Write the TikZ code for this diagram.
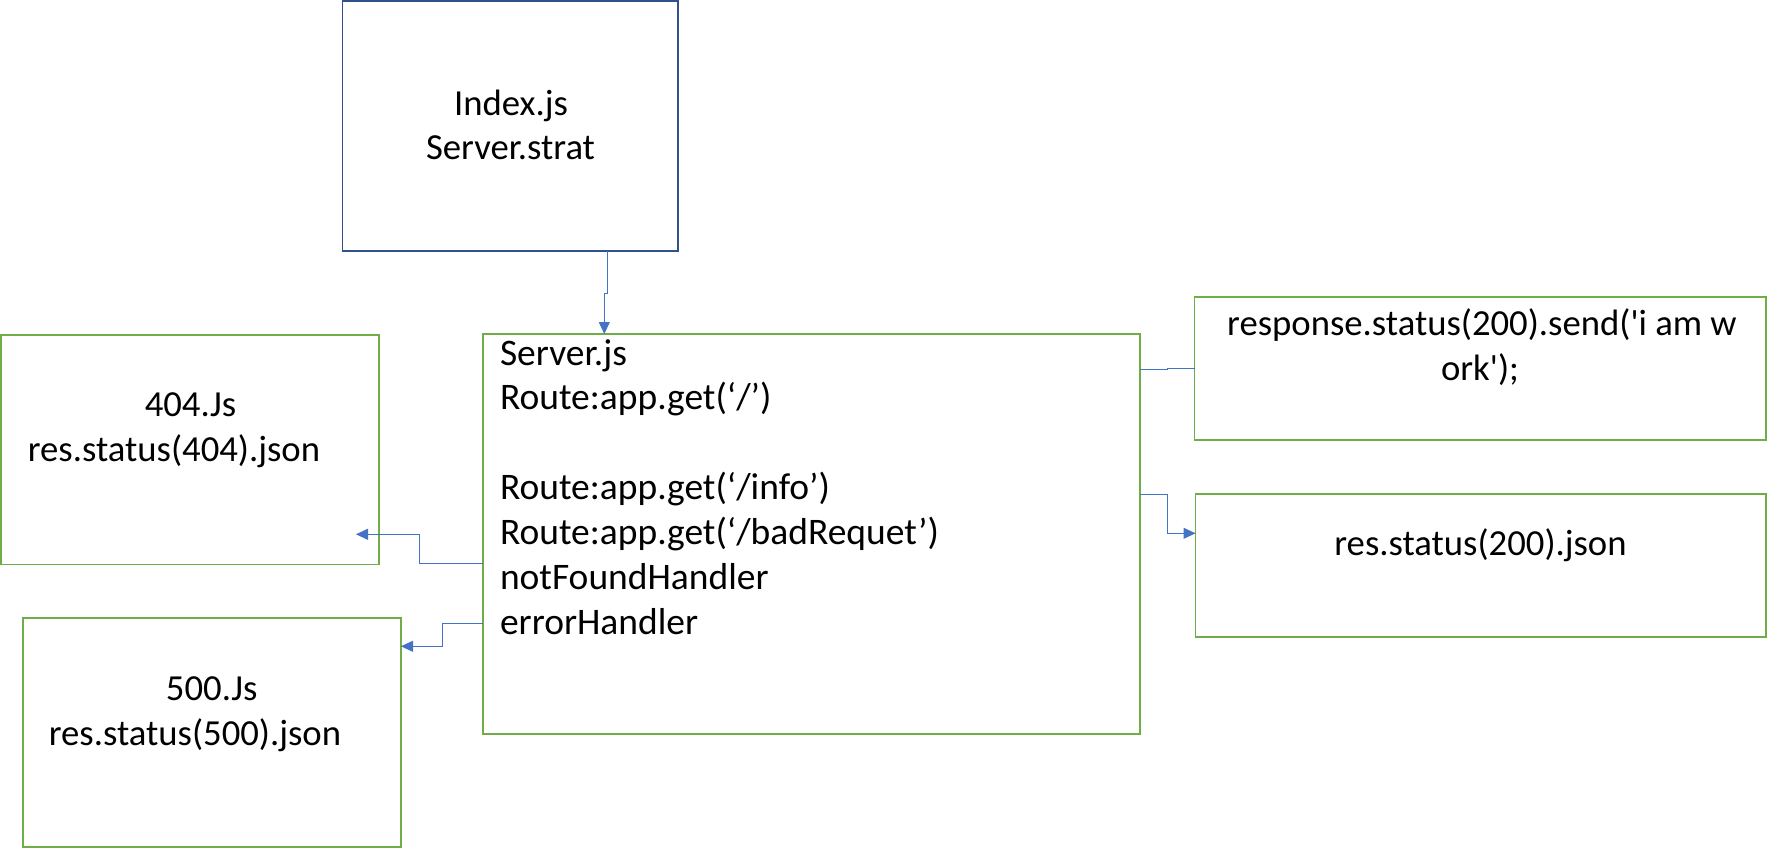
\documentclass[tikz,border=0pt]{standalone}
\usepackage{fontspec}
\setmainfont{Carlito}
\usetikzlibrary{arrows.meta}
\definecolor{boxgreen}{HTML}{70AD47}
\definecolor{boxblue}{HTML}{2F528F}
\definecolor{linkblue}{HTML}{4472C4}
\begin{document}
\begin{tikzpicture}[x=1pt,y=-1pt,
  gbox/.style={draw=boxgreen, line width=1.6pt, inner sep=0pt, outer sep=0pt},
  bbox/.style={draw=boxblue, line width=1.6pt, inner sep=0pt, outer sep=0pt},
  txt/.style={font=\fontsize{36.7pt}{45pt}\selectfont, inner sep=0pt, outer sep=0pt, text=black},
  ctxt/.style={txt, anchor=base},
  ltxt/.style={txt, anchor=base west, font=\fontsize{37.5pt}{45pt}\selectfont},
  conn/.style={draw=linkblue, line width=1pt},
  arr/.style={conn, -{Triangle[length=12pt,width=11pt]}}]
\useasboundingbox (0,0) rectangle (1768,850);
\fill[white] (0,0) rectangle (1768,850);

% boxes
\node[bbox, minimum width=335.5pt, minimum height=250pt] (idx) at (510.25,126) {};
\node[gbox, minimum width=657pt, minimum height=400pt] (srv) at (811.5,534) {};
\node[gbox, minimum width=378pt, minimum height=229.5pt] (e404) at (190,449.75) {};
\node[gbox, minimum width=378.3pt, minimum height=229pt] (e500) at (211.85,732.5) {};
\node[gbox, minimum width=571.5pt, minimum height=143pt] (resp) at (1480.25,368.5) {};
\node[gbox, minimum width=570.5pt, minimum height=143pt] (ok200) at (1480.75,565.5) {};

% texts
\node[ctxt] (idxa) at (511,116) {Index.js};
\node[ctxt] (idxb) at (510.5,160) {Server.strat};

\node[ltxt] (s1) at (500,365) {Server.js};
\node[ltxt] (s2) at (500,409.5) {Route:app.get(‘/’)};
\node[ltxt] (s3) at (500,499.5) {Route:app.get(‘/info’)};
\node[ltxt] (s4) at (500,544.5) {Route:app.get(‘/badRequet’)};
\node[ltxt] (s5) at (500,589.5) {notFoundHandler};
\node[ltxt] (s6) at (500,634.5) {errorHandler};

\node[ctxt] (t404a) at (190.5,416.7) {404.Js};
\node[ctxt] (t404b) at (174,461.7) {res.status(404).json};

\node[ctxt] (t500a) at (211.7,700) {500.Js};
\node[ctxt] (t500b) at (195,745.7) {res.status(500).json};

\node[ctxt] (tra) at (1482,335) {response.status(200).send(\textquotesingle i am w};
\node[ctxt] (trb) at (1480,380) {ork\textquotesingle);};

\node[ctxt] (tok) at (1480.5,555) {res.status(200).json};

% connectors
\coordinate (c1) at (607,0 |- idx.south);
\draw[arr] (c1) -- (607,293) -- (604.3,293) -- (604.3,0 |- srv.north);

\coordinate (c2) at (srv.west |- 0,563);
\coordinate (c2e) at (356,534.3);
\draw[arr] (c2) -- (419.3,563) -- (419.3,534.3) -- (c2e);

\coordinate (c3) at (srv.west |- 0,623.3);
\draw[arr] (c3) -- (442.7,623.3) -- (442.7,646.3) -- (e500.east |- 0,646.3);

\coordinate (c4) at (srv.east |- 0,369.7);
\draw[conn] (c4) -- (1167.3,369.7) -- (1167.3,368.3) -- (resp.west |- 0,368.3);

\coordinate (c5) at (srv.east |- 0,494.3);
\draw[arr] (c5) -- (1167,494.3) -- (1167,533.3) -- (ok200.west |- 0,533.3);
\end{tikzpicture}
\end{document}
